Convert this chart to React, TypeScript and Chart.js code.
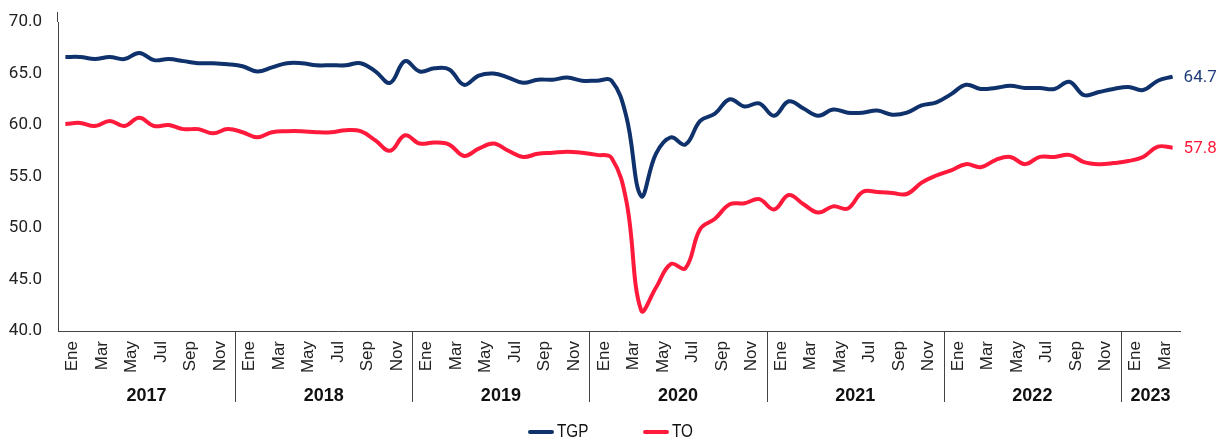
import React, { useEffect, useRef } from "react";
import { Chart, registerables } from "chart.js";

Chart.register(...registerables);

const monthNames = ["Ene", "Feb", "Mar", "Abr", "May", "Jun", "Jul", "Ago", "Sep", "Oct", "Nov", "Dic"];
const years = ["2017", "2018", "2019", "2020", "2021", "2022", "2023"];

const tgp = [
  66.6, 66.6, 66.4, 66.6, 66.4, 67.0, 66.3, 66.4, 66.2, 66.0, 66.0, 65.9,
  65.7, 65.2, 65.6, 66.0, 66.0, 65.8, 65.8, 65.8, 66.0, 65.2, 64.1, 66.2,
  65.2, 65.5, 65.4, 63.9, 64.8, 65.0, 64.6, 64.1, 64.4, 64.4, 64.6, 64.3,
  64.3, 64.3, 60.8, 53.1, 57.2, 58.8, 58.1, 60.4, 61.1, 62.5, 61.8, 62.1,
  60.9, 62.3, 61.6, 60.9, 61.5, 61.2, 61.2, 61.4, 61.0, 61.2, 61.9, 62.2,
  63.0, 63.9, 63.5, 63.6, 63.8, 63.6, 63.6, 63.5, 64.2, 62.9, 63.2, 63.5,
  63.7, 63.4, 64.3, 64.7,
];

const to = [
  60.1, 60.2, 59.9, 60.4, 59.9, 60.7, 59.9, 60.0, 59.6, 59.6, 59.2, 59.6,
  59.3, 58.8, 59.3, 59.4, 59.4, 59.3, 59.3, 59.5, 59.4, 58.5, 57.5, 59.0,
  58.2, 58.3, 58.1, 57.0, 57.7, 58.2, 57.5, 56.9, 57.2, 57.3, 57.4, 57.3,
  57.1, 56.8, 52.6, 42.0, 44.2, 46.5, 46.1, 49.9, 50.9, 52.3, 52.4, 52.8,
  51.8, 53.2, 52.3, 51.5, 52.1, 51.9, 53.5, 53.5, 53.4, 53.3, 54.4, 55.1,
  55.6, 56.2, 55.9, 56.6, 56.9, 56.2, 56.9, 56.9, 57.1, 56.4, 56.2, 56.3,
  56.5, 56.9, 57.9, 57.8,
];

const seriesNames = ["TGP", "TO"];
const NAVY = "#0f326c";
const RED = "#ff1a3c";

const labels: string[] = [];
const labelYears: string[] = [];
years.forEach((y) => monthNames.forEach((m) => { labels.push(m); labelYears.push(y); }));
labels.length = tgp.length;
labelYears.length = tgp.length;

const overlayPlugin = {
  id: "overlay",
  afterDraw(chart: any) {
    const ctx = chart.ctx;
    const xs = chart.scales.x;
    const area = chart.chartArea;
    ctx.save();
    ctx.strokeStyle = "#444";
    ctx.lineWidth = 1;
    // axis line extends slightly above the top tick
    const ax = Math.round(area.left) - 0.5;
    ctx.beginPath();
    ctx.moveTo(ax, 12);
    ctx.lineTo(ax, area.top);
    ctx.stroke();
    years.forEach((yr) => {
      const idx = labelYears.map((v, i) => (v === yr ? i : -1)).filter((i) => i >= 0);
      if (!idx.length) return;
      const first = idx[0];
      const last = idx[idx.length - 1];
      if (first > 0) {
        const xd = Math.round((xs.getPixelForValue(first - 1) + xs.getPixelForValue(first)) / 2) + 0.5;
        ctx.beginPath();
        ctx.moveTo(xd, area.bottom);
        ctx.lineTo(xd, 402);
        ctx.stroke();
      }
      const cx = (xs.getPixelForValue(first) + xs.getPixelForValue(last)) / 2;
      ctx.fillStyle = "#111";
      ctx.font = "bold 18px 'Liberation Sans', Arial, sans-serif";
      ctx.textAlign = "center";
      ctx.textBaseline = "middle";
      ctx.fillText(yr, cx, 396);
    });
    const n = tgp.length - 1;
    const dsData = [tgp, to];
    const colors = ["#1f3d7a", RED];
    dsData.forEach((d, i) => {
      const meta = chart.getDatasetMeta(i);
      const pt = meta.data[n];
      ctx.fillStyle = colors[i];
      ctx.font = "17px Roboto, sans-serif";
      ctx.textAlign = "left";
      ctx.textBaseline = "middle";
      ctx.fillText(d[n].toFixed(1), pt.x + 11, pt.y + 1);
    });
    const legendItems = [
      { x: 528, color: NAVY, text: seriesNames[0] },
      { x: 643, color: RED, text: seriesNames[1] },
    ];
    legendItems.forEach((it) => {
      ctx.strokeStyle = it.color;
      ctx.lineWidth = 4;
      ctx.lineCap = "round";
      ctx.beginPath();
      ctx.moveTo(it.x + 2, 432);
      ctx.lineTo(it.x + 24, 432);
      ctx.stroke();
      ctx.save();
      ctx.translate(it.x + 29, 432);
      ctx.scale(0.85, 1);
      ctx.fillStyle = "#111";
      ctx.font = "18px 'Liberation Sans', Arial, sans-serif";
      ctx.textAlign = "left";
      ctx.textBaseline = "middle";
      ctx.fillText(it.text, 0, 0);
      ctx.restore();
    });
    ctx.restore();
  },
};

export default function App() {
  const ref = useRef<HTMLCanvasElement | null>(null);
  useEffect(() => {
    document.body.style.margin = "0";
    if (!ref.current) return;
    const chart = new Chart(ref.current, {
      type: "line",
      data: {
        labels,
        datasets: [
          { label: seriesNames[0], data: tgp, borderColor: NAVY, backgroundColor: NAVY, borderWidth: 4, pointRadius: 0, tension: 0.4 },
          { label: seriesNames[1], data: to, borderColor: RED, backgroundColor: RED, borderWidth: 4, pointRadius: 0, tension: 0.4 },
        ],
      },
      options: {
        animation: false,
        responsive: false,
        maintainAspectRatio: false,
        layout: { padding: { top: 22, right: 46, left: 0, bottom: 0 } },
        plugins: { legend: { display: false }, tooltip: { enabled: false } },
        scales: {
          x: {
            type: "category",
            offset: true,
            grid: { display: false, drawTicks: false },
            border: { display: true, color: "#444", width: 1 },
            afterFit: (s: any) => { s.height = 110; s.paddingLeft = 0; s.paddingRight = 0; },
            ticks: {
              autoSkip: false,
              minRotation: 90,
              maxRotation: 90,
              padding: 10,
              labelOffset: 7,
              color: "#222",
              font: { family: "'Liberation Sans', Arial, sans-serif", size: 17 },
              callback: (_v: any, i: number) => (i % 2 === 0 ? labels[i] : ""),
            },
          },
          y: {
            min: 40,
            max: 70,
            grid: { display: false, drawTicks: false },
            border: { display: true, color: "#444", width: 1 },
            afterFit: (s: any) => { s.width = 58; s.paddingTop = 0; s.paddingBottom = 0; },
            ticks: {
              stepSize: 5,
              padding: 16,
              color: "#222",
              font: { family: "Roboto, sans-serif", size: 17 },
              callback: (v: any) => Number(v).toFixed(1),
            },
          },
        },
      },
      plugins: [overlayPlugin],
    });
    return () => chart.destroy();
  }, []);
  return (
    <div style={{ width: 1226, height: 441 }}>
      <canvas ref={ref} width={1226} height={441} style={{ display: "block" }} />
    </div>
  );
}
